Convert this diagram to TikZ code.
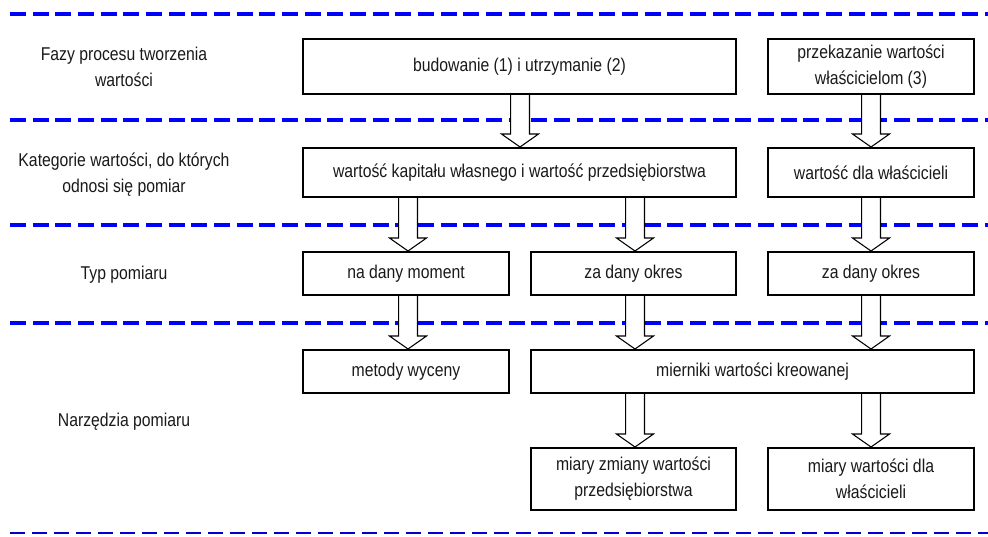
\documentclass[tikz,border=0pt]{standalone}
\usepackage{fontspec}
\setmainfont{Liberation Sans}[FakeStretch=0.85]
\usetikzlibrary{calc}
\tikzset{
  box/.style={draw=black, line width=1.5pt, align=center, inner sep=0pt,
    font=\fontsize{13.9}{19.5}\selectfont, text=black!90},
  lbl/.style={align=center, inner sep=0pt, font=\fontsize{13.9}{19.5}\selectfont, text=black!90},
  sep/.style={draw=blue, line width=3pt, dash pattern=on 12pt off 5pt},
  septhin/.style={draw=blue!80!black, line width=1.5pt, dash pattern=on 11pt off 5.5pt},
  blockarrow/.style={draw=black, fill=white, line width=0.8pt, line join=miter}
}
\newcommand\blockarr[3]{%
  \path[blockarrow] let \p1=(#1 |- #2.south), \p2=(#1 |- #3.north) in
    (\x1-7.1pt,\y1) -- (\x1-7.1pt,\y2+9.75pt) -- (\x1-13.9pt,\y2+9.75pt) --
    (\x2,\y2) -- (\x1+13.9pt,\y2+9.75pt) -- (\x1+7.1pt,\y2+9.75pt) -- (\x1+7.1pt,\y1);}
\begin{document}
\begin{tikzpicture}[x=0.75pt,y=-0.75pt]
\useasboundingbox (0,0) rectangle (988,536);
% separators
\draw[sep] (10,14) -- (988,14);
\draw[sep] (10,120) -- (988,120);
\draw[sep] (10,225) -- (988,225);
\draw[sep] (10,323) -- (988,323);
\draw[septhin] (10,533) -- (988,533);
% left labels
\node[lbl] (l1) at (124,67) {Fazy procesu tworzenia\\wartości};
\node[lbl] (l2) at (124,175) {Kategorie wartości, do których\\odnosi się pomiar};
\node[lbl] (l3) at (124,275) {Typ pomiaru};
\node[lbl] (l4) at (124,422) {Narzędzia pomiaru};
% boxes
\node[box, minimum width=324.75pt, minimum height=41.25pt] (B1) at (519.5,66.5) {budowanie (1) i utrzymanie (2)};
\node[box, minimum width=154.5pt, minimum height=41.25pt] (B2) at (871,66.5) {przekazanie wartości\\właścicielom (3)};
\node[box, minimum width=324.75pt, minimum height=36.75pt] (C1) at (519.5,172.5) {wartość kapitału własnego i wartość przedsiębiorstwa};
\node[box, minimum width=154.5pt, minimum height=36.75pt] (C2) at (871,172.5) {wartość dla właścicieli};
\node[box, minimum width=154.5pt, minimum height=32.25pt] (D1) at (406,273.5) {na dany moment};
\node[box, minimum width=153.75pt, minimum height=32.25pt] (D2) at (633.5,273.5) {za dany okres};
\node[box, minimum width=154.5pt, minimum height=32.25pt] (D3) at (871,273.5) {za dany okres};
\node[box, minimum width=154.5pt, minimum height=32.25pt] (E1) at (406,371.5) {metody wyceny};
\node[box, minimum width=332.25pt, minimum height=32.25pt] (E2) at (752.5,371.5) {mierniki wartości kreowanej};
\node[box, minimum width=153.75pt, minimum height=46.5pt] (F1) at (633.5,479) {miary zmiany wartości\\przedsiębiorstwa};
\node[box, minimum width=154.5pt, minimum height=46.5pt] (F2) at (871,479) {miary wartości dla\\właścicieli};
% column coordinates
\coordinate (xa) at (520,0);
\coordinate (xb) at (871,0);
\coordinate (xc) at (408,0);
\coordinate (xd) at (635,0);
% arrows
\blockarr{xa}{B1}{C1}
\blockarr{xb}{B2}{C2}
\blockarr{xc}{C1}{D1}
\blockarr{xd}{C1}{D2}
\blockarr{xb}{C2}{D3}
\blockarr{xc}{D1}{E1}
\blockarr{xd}{D2}{E2}
\blockarr{xb}{D3}{E2}
\blockarr{xd}{E2}{F1}
\blockarr{xb}{E2}{F2}
\end{tikzpicture}
\end{document}
